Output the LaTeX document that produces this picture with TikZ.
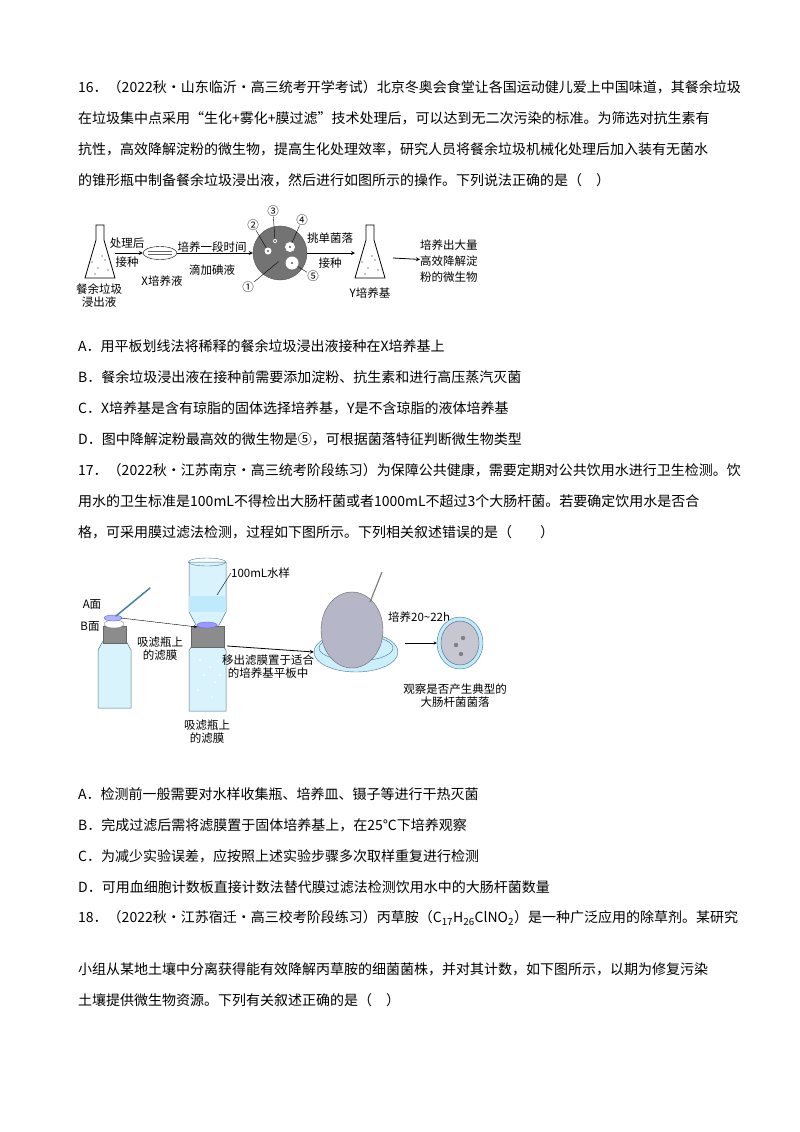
\documentclass[tikz,border=0pt]{standalone}
\usepackage{fontspec}
\setmainfont{Noto Sans CJK SC}
\usetikzlibrary{arrows,positioning,shapes.geometric}

\begin{document}
\begin{tikzpicture}[
    x=1pt, y=-1pt,
    line/.style={anchor=west, inner sep=0pt, font=\fontsize{14}{16}\selectfont},
    lbl/.style={inner sep=0pt, font=\fontsize{11.5}{13}\selectfont, align=center},
    arrow/.style={->, >=stealth, thick},
    flask/.style={draw=black, fill=white, line width=0.8pt},
    glass/.style={draw=cyan!50!black, fill=cyan!15, line width=0.5pt},
    collar/.style={draw=black!60, fill=black!45}
]
\useasboundingbox (0,0) rectangle (800,1132);

% Question 16
\node (q16a) [line] at (78,87) {16．（2022秋·山东临沂·高三统考开学考试）北京冬奥会食堂让各国运动健儿爱上中国味道，其餐余垃圾};
\node (q16b) [line] at (78,118) {在垃圾集中点采用“生化+雾化+膜过滤”技术处理后，可以达到无二次污染的标准。为筛选对抗生素有};
\node (q16c) [line] at (78,149) {抗性，高效降解淀粉的微生物，提高生化处理效率，研究人员将餐余垃圾机械化处理后加入装有无菌水};
\node (q16d) [line] at (78,180) {的锥形瓶中制备餐余垃圾浸出液，然后进行如图所示的操作。下列说法正确的是（　）};

% Figure 1
\draw [flask] (96,225) -- (104,225) -- (104,240) -- (115,278) -- (85,278) -- (96,240) -- cycle;
\foreach \p in {(92,262),(98,268),(105,260),(108,270),(95,274),(102,256)}
  \fill \p circle (0.6);
\node (waste) [lbl] at (99,296) {餐余垃圾\\浸出液};
\node (xdish) [draw, fill=white, ellipse, minimum width=34pt, minimum height=13pt, inner sep=0pt] at (160,253) {};
\draw [black!60] (148,251) -- (172,251) (148,254) -- (172,254);
\node (xlbl) [lbl] at (162,281) {X培养液};
\coordinate (f1r) at (115,253);
\draw [arrow] (f1r) -- (xdish);
\node [lbl] at (127,243) {处理后};
\node [lbl] at (127,262) {接种};
\node (plate) [circle, fill=black!55, draw=black!70, minimum size=54pt, inner sep=0pt] at (280,253) {};
\draw [arrow] (xdish) -- (plate);
\node [lbl] at (212,247) {培养一段时间};
\node [lbl] at (212,270) {滴加碘液};
\node (c2) [circle, fill=white, minimum size=7pt, inner sep=0pt] at (268,251) {};
\node (c3) [circle, fill=white, minimum size=4pt, inner sep=0pt] at (275,241) {};
\node (c4) [circle, fill=white, minimum size=10pt, inner sep=0pt] at (290,247) {};
\node (c5) [circle, fill=white, minimum size=13pt, inner sep=0pt] at (292,263) {};
\node (c1) [inner sep=0pt] at (278,262) {};
\foreach \c in {c2,c3,c4,c5} \fill (\c) circle (0.8);
\fill (c1) circle (0.6);
\node (n2) [lbl] at (253,225) {②};
\node (n3) [lbl] at (273,211) {③};
\node (n4) [lbl] at (302,220) {④};
\node (n5) [lbl] at (313,276) {⑤};
\node (n1) [lbl] at (248,287) {①};
\draw (n2) -- (c2); \draw (n3) -- (c3); \draw (n4) -- (c4);
\draw (n5) -- (c5); \draw (n1) -- (c1);
\draw [flask] (366,225) -- (374,225) -- (374,240) -- (385,278) -- (355,278) -- (366,240) -- cycle;
\foreach \p in {(362,262),(368,268),(375,260),(378,270),(365,274),(372,256)}
  \fill \p circle (0.6);
\coordinate (yl) at (355,253);
\draw [arrow] (plate) -- (yl);
\node [lbl] at (330,238) {挑单菌落};
\node [lbl] at (330,263) {接种};
\node (ylbl) [lbl] at (370,293) {Y培养基};
\coordinate (yr) at (393,258);
\node (result) [lbl, anchor=west, align=left] at (420,261) {培养出大量\\[3pt]高效降解淀\\[3pt]粉的微生物};
\draw [arrow] (yr) -- (result);

% Options 16
\node (o16a) [line] at (78,346) {A．用平板划线法将稀释的餐余垃圾浸出液接种在X培养基上};
\node (o16b) [line] at (78,377) {B．餐余垃圾浸出液在接种前需要添加淀粉、抗生素和进行高压蒸汽灭菌};
\node (o16c) [line] at (78,408) {C．X培养基是含有琼脂的固体选择培养基，Y是不含琼脂的液体培养基};
\node (o16d) [line] at (78,439) {D．图中降解淀粉最高效的微生物是⑤，可根据菌落特征判断微生物类型};

% Question 17
\node (q17a) [line] at (78,470) {17．（2022秋·江苏南京·高三统考阶段练习）为保障公共健康，需要定期对公共饮用水进行卫生检测。饮};
\node (q17b) [line] at (78,501) {用水的卫生标准是100mL不得检出大肠杆菌或者1000mL不超过3个大肠杆菌。若要确定饮用水是否合};
\node (q17c) [line] at (78,532) {格，可采用膜过滤法检测，过程如下图所示。下列相关叙述错误的是（　　）};

% Figure 2
\draw [glass] (98,650) -- (98,708) -- (131,708) -- (131,650) -- (126,641) -- (103,641) -- cycle;
\draw [collar] (103,626) rectangle (126,643);
\draw [draw=black!50, fill=white] (114,624) ellipse (10 and 4);
\draw [draw=blue!60, fill=blue!30] (113,618) ellipse (9 and 3);
\draw [draw=cyan!60!black, fill=cyan!40, line width=1.5pt, line cap=round] (116,616) -- (150,588);
\node (aface) [lbl] at (92,605) {A面};
\node (bface) [lbl] at (90,627) {B面};
\coordinate (disc) at (121,618);
\draw [glass] (189,650) -- (189,711) -- (226,711) -- (226,650) -- (222,645) -- (193,645) -- cycle;
\foreach \p in {(200,660),(210,667),(218,662),(204,675),(215,682),(198,690),(212,697),(220,675)}
  \fill [white] \p circle (1);
\draw [collar] (191,626) rectangle (224,647);
\draw [glass] (189,562) -- (189,612) -- (196,625) -- (219,625) -- (226,612) -- (226,562) -- cycle;
\fill [cyan!25] (189,596) rectangle (226,612);
\draw [cyan!50!black] (207,562) ellipse (18.5 and 4);
\draw [draw=blue!60, fill=blue!40] (207,625) ellipse (10 and 3);
\coordinate (funnel) at (197,627);
\draw [->, >=stealth] (disc) -- (funnel);
\node (sample) [lbl, anchor=west] at (231,573) {100mL水样};
\coordinate (water) at (217,595);
\draw (sample.west) -- (water);
\node (memb1) [lbl] at (160,649) {吸滤瓶上\\的滤膜};
\node (memb2) [lbl] at (207,732) {吸滤瓶上\\的滤膜};
\node (bigdish) [draw=cyan!50!black, fill=cyan!20, ellipse, minimum width=84pt, minimum height=40pt, inner sep=0pt] at (356,652) {};
\draw [cyan!50!black] (356,648) ellipse (37 and 13);
\node (film) [draw=black!60, fill=blue!15!gray!50, ellipse, minimum width=62pt, minimum height=76pt, inner sep=0pt] at (352,630) {};
\draw [black!50, line width=1.2pt] (370,602) -- (382,572);
\coordinate (f2m) at (227,646);
\draw [arrow] (f2m) -- (bigdish.west);
\node (move) [lbl] at (268,667) {移出滤膜置于适合\\的培养基平板中};
\node (incub) [lbl, anchor=west] at (388,617) {培养20\textasciitilde22h};
\node (smalldish) [draw=cyan!50!black, fill=cyan!25, ellipse, minimum width=46pt, minimum height=52pt, inner sep=0pt] at (460,643) {};
\draw [cyan!40!black, fill=blue!10!gray!40] (460,643) ellipse (19 and 22);
\foreach \p in {(463,638),(456,645),(461,654)}
  \fill [black!50] \p circle (2.2);
\coordinate (al) at (405,643);
\draw [->, >=stealth] (al) -- (smalldish.west);
\node (obs) [lbl] at (455,696) {观察是否产生典型的\\大肠杆菌菌落};

% Options 17
\node (o17a) [line] at (78,794) {A．检测前一般需要对水样收集瓶、培养皿、镊子等进行干热灭菌};
\node (o17b) [line] at (78,825) {B．完成过滤后需将滤膜置于固体培养基上，在25℃下培养观察};
\node (o17c) [line] at (78,856) {C．为减少实验误差，应按照上述实验步骤多次取样重复进行检测};
\node (o17d) [line] at (78,887) {D．可用血细胞计数板直接计数法替代膜过滤法检测饮用水中的大肠杆菌数量};

% Question 18
\node (q18a) [line] at (78,918) {18．（2022秋·江苏宿迁·高三校考阶段练习）丙草胺（$\mathrm{C_{17}H_{26}ClNO_2}$）是一种广泛应用的除草剂。某研究};
\node (q18b) [line] at (78,969) {小组从某地土壤中分离获得能有效降解丙草胺的细菌菌株，并对其计数，如下图所示，以期为修复污染};
\node (q18c) [line] at (78,1000) {土壤提供微生物资源。下列有关叙述正确的是（　）};
\end{tikzpicture}
\end{document}
